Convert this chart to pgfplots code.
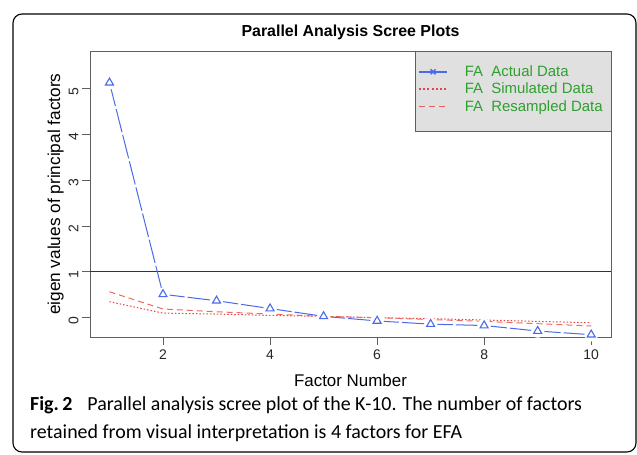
\documentclass[border=0pt]{standalone}
\usepackage{fontspec}
\setmainfont{Liberation Sans}
\newfontfamily\capfont{Carlito}
\usepackage{pgfplots}
\pgfplotsset{compat=1.18}
\definecolor{blueC}{RGB}{75,105,235}
\definecolor{redC}{RGB}{232,70,70}
\definecolor{salmonC}{RGB}{240,105,95}
\definecolor{greenC}{RGB}{45,160,45}
\definecolor{legfill}{RGB}{224,224,224}
\definecolor{axgray}{RGB}{95,95,95}
\begin{document}
\begin{tikzpicture}[x=1bp,y=1bp]
\useasboundingbox (0bp,0bp) rectangle (637bp,455bp);
\fill[white] (0bp,0bp) rectangle (637bp,455bp);
\draw[line width=1.1bp, rounded corners=9bp] (13bp,3bp) rectangle (636bp,441bp);
\begin{axis}[
  at={(90bp,118bp)}, anchor=south west, scale only axis,
  width=521bp, height=285.5bp,
  xmin=0.636, xmax=10.37, ymin=-0.42, ymax=5.80,
  xtick={2,4,6,8,10}, ytick={0,1,2,3,4,5},
  xtick pos=bottom, ytick pos=left,
  tick align=outside, major tick length=8bp,
  every tick/.style={axgray, line width=0.8bp},
  axis line style={axgray, line width=0.9bp},
  /pgf/number format/assume math mode=true,
  tick label style={font=\fontsize{14}{16}\selectfont, text=black!85},
  yticklabel style={rotate=90, anchor=south, xshift=-3bp},
  xticklabel style={yshift=-1bp},
  title={Parallel Analysis Scree Plots},
  title style={font=\bfseries\fontsize{16}{18}\selectfont, at={(0.5,1)}, anchor=base, yshift=9bp},
  xlabel={Factor Number},
  xlabel style={font=\fontsize{17}{19}\selectfont, at={(axis description cs:0.5,-0.151)}, anchor=center},
  ylabel={eigen values of principal factors},
  ylabel style={font=\fontsize{17.3}{19}\selectfont, at={(axis description cs:-0.066,0.5)}, anchor=center, rotate=0},
  legend cell align=left,
  legend image code/.code={\draw[mark repeat=2,mark phase=2,#1] plot coordinates {(0bp,0bp) (14bp,0bp) (28bp,0bp)};},
  legend style={at={(axis description cs:0.624,0.965)}, anchor=north west, draw=none, fill=none,
    font=\fontsize{15}{17}\selectfont, row sep=1bp, column sep=15bp},
]
\draw[fill=legfill, draw=axgray, line width=0.9bp] (rel axis cs:0.6238,0.719) rectangle (rel axis cs:1,1);
\addplot[black!80, line width=0.9bp, forget plot] coordinates {(0.636,1) (10.37,1)};
% actual data: line, gaps, triangles
\addplot[blueC, line width=1bp, dash pattern=on 24bp off 3bp, forget plot] table {
x y
1 5.12
2 0.51
3 0.37
4 0.20
5 0.03
6 -0.07
7 -0.14
8 -0.17
9 -0.29
10 -0.37
};
\addplot[white, only marks, mark=*, mark size=6.5bp, mark options={draw=white, fill=white}, forget plot] table {
x y
1 5.12
2 0.51
3 0.37
4 0.20
5 0.03
6 -0.07
7 -0.14
8 -0.17
9 -0.29
10 -0.37
};
\addplot[only marks, blueC, mark=triangle, mark size=4.6bp, mark options={line width=1.1bp}, forget plot] table {
x y
1 5.12
2 0.51
3 0.37
4 0.20
5 0.03
6 -0.07
7 -0.14
8 -0.17
9 -0.29
10 -0.37
};
% simulated
\addplot[redC, line width=1bp, dash pattern=on 1.5bp off 2bp, forget plot] table {
x y
1 0.35
2 0.10
3 0.08
4 0.05
5 0.03
6 0.00
7 -0.02
8 -0.05
9 -0.08
10 -0.11
};
% resampled
\addplot[salmonC, line width=1bp, dash pattern=on 6bp off 4bp, forget plot] table {
x y
1 0.565
2 0.19
3 0.13
4 0.08
5 0.03
6 0.00
7 -0.04
8 -0.08
9 -0.13
10 -0.18
};
\addlegendimage{blueC, line width=1.5bp, mark=x, mark size=3.5bp, mark options={solid, blueC}}
\addlegendentry{\textcolor{greenC}{FA\ \ Actual Data}}
\addlegendimage{redC, line width=1.5bp, dash pattern=on 2bp off 2.2bp}
\addlegendentry{\textcolor{greenC}{FA\ \ Simulated Data}}
\addlegendimage{redC!85!white, line width=1.5bp, dash pattern=on 6bp off 4bp}
\addlegendentry{\textcolor{greenC}{FA\ \ Resampled Data}}
\end{axis}
\node[anchor=base west, inner sep=0pt, font=\capfont\fontsize{20}{24}\selectfont] at (30bp,44bp)
  {\textbf{Fig.\,2}\hspace{0.75em}Parallel analysis scree plot of the K-10. The number of factors};
\node[anchor=base west, inner sep=0pt, font=\capfont\fontsize{20}{24}\selectfont] at (30bp,17bp)
  {retained from visual interpretation is 4 factors for EFA};
\end{tikzpicture}
\end{document}
